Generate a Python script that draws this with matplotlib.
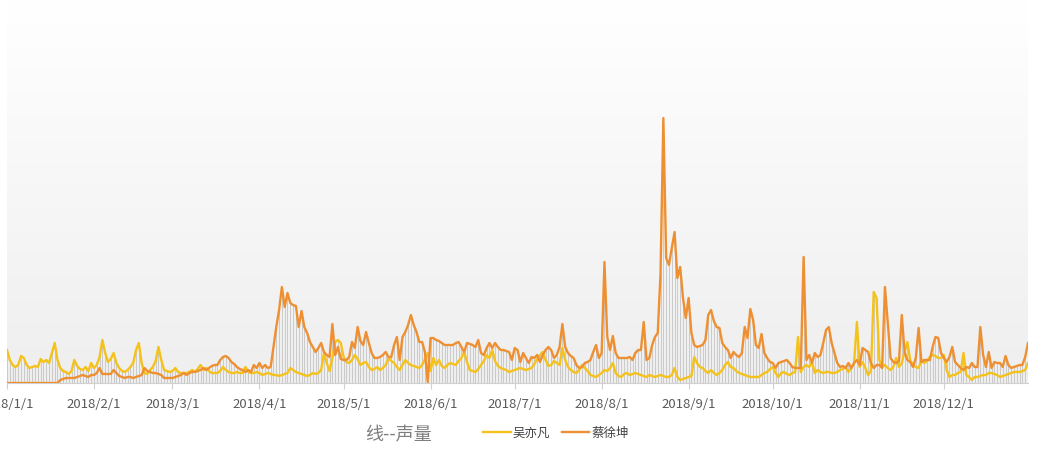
import matplotlib
matplotlib.use("Agg")
import matplotlib.pyplot as plt
import numpy as np
import pandas as pd

plt.rcParams['font.family'] = ['Noto Sans CJK SC', 'DejaVu Sans']

# ---- data: daily 声量 (arbitrary units) ----
year_start = '2018-01-01'
year_end = '2018-12-31'

# 吴亦凡 (yellow)
wyf_jan = [33, 23, 18, 16, 18, 27, 25, 18, 15, 16, 17, 16, 24, 21, 23, 20, 30, 40, 23, 15,
           12, 11, 9, 12, 23, 17, 14, 13, 16, 12, 20]
wyf_feb = [15, 18, 26, 43, 30, 21, 24, 30, 20, 15, 12, 11, 13, 16, 20, 33, 40, 20, 10, 9,
           13, 16, 22, 36, 23, 13, 12, 11]
wyf_mar = [12, 15, 11, 10, 10, 10, 11, 13, 11, 14, 18, 13, 15, 12, 10, 10, 10, 12, 16, 13,
           11, 10, 10, 11, 10, 10, 16, 11, 10, 10, 11]
wyf_apr = [10, 8, 9, 10, 9, 8, 8, 7, 8, 9, 10, 15, 13, 11, 10, 9, 8, 7, 8, 10,
           9, 10, 13, 30, 20, 12, 25, 41, 43, 40]
wyf_may = [26, 21, 20, 23, 28, 24, 18, 20, 21, 16, 13, 14, 16, 13, 15, 18, 25, 22, 20, 16,
           13, 18, 23, 20, 18, 17, 16, 15, 18, 24, 30]
wyf_jun = [12, 25, 18, 23, 17, 15, 18, 20, 19, 18, 22, 25, 31, 21, 13, 12, 11, 14, 18, 22,
           28, 25, 33, 22, 17, 15, 14, 13, 11, 12]
wyf_jul = [13, 14, 15, 14, 13, 14, 15, 19, 24, 28, 31, 23, 17, 18, 22, 20, 18, 35, 23, 16,
           13, 11, 10, 13, 18, 15, 12, 8, 7, 6, 8]
wyf_aug = [10, 13, 12, 15, 20, 10, 7, 6, 9, 10, 8, 9, 10, 9, 8, 7, 6, 8, 7, 6,
           7, 8, 7, 6, 6, 8, 15, 6, 3, 4, 5]
wyf_sep = [6, 7, 26, 20, 16, 15, 12, 10, 13, 10, 8, 10, 13, 18, 21, 16, 15, 12, 10, 9,
           8, 7, 6, 6, 6, 6, 8, 10, 11, 14]
wyf_oct = [16, 10, 6, 10, 11, 9, 8, 10, 11, 46, 11, 16, 18, 16, 21, 10, 13, 11, 10, 11,
           11, 10, 10, 11, 13, 14, 16, 11, 15, 20, 61]
wyf_nov = [16, 21, 15, 8, 12, 91, 85, 23, 16, 18, 15, 13, 16, 25, 16, 20, 31, 41, 23, 18,
           16, 15, 23, 20, 22, 26, 28, 27, 25, 25]
wyf_dec = [28, 13, 6, 8, 8, 10, 11, 30, 8, 6, 3, 6, 6, 7, 8, 8, 10, 10, 9, 8,
           6, 7, 8, 9, 10, 11, 11, 11, 12, 13, 20]

# 蔡徐坤 (orange)
cxk_jan = [0, 0, 0, 0, 0, 0, 0, 0, 0, 0, 0, 0, 0, 0, 0, 0, 0, 0, 0, 3,
           4, 5, 5, 5, 5, 6, 7, 8, 7, 6, 8]
cxk_feb = [8, 10, 15, 9, 9, 9, 9, 13, 10, 7, 6, 5, 6, 6, 5, 6, 7, 8, 15, 12,
           11, 10, 10, 9, 8, 5, 5, 5]
cxk_mar = [5, 6, 7, 8, 10, 8, 10, 11, 11, 12, 13, 15, 13, 15, 17, 18, 18, 23, 26, 27,
           25, 21, 19, 16, 14, 13, 11, 13, 11, 18, 15]
cxk_apr = [20, 15, 18, 15, 16, 36, 56, 73, 96, 76, 90, 80, 78, 77, 56, 72, 56, 50, 41, 36,
           31, 35, 40, 31, 28, 26, 59, 28, 36, 24]
cxk_may = [23, 23, 26, 41, 35, 56, 42, 38, 51, 40, 30, 25, 25, 26, 28, 31, 26, 26, 38, 46,
           23, 46, 51, 58, 68, 58, 51, 41, 41, 31, 1]
cxk_jun = [45, 45, 43, 42, 40, 38, 38, 38, 38, 40, 41, 36, 31, 40, 39, 38, 36, 43, 30, 28,
           35, 40, 35, 40, 36, 33, 33, 32, 31, 23]
cxk_jul = [35, 33, 21, 30, 25, 20, 26, 25, 28, 21, 28, 33, 36, 33, 25, 28, 36, 59, 36, 30,
           27, 25, 18, 15, 16, 20, 21, 23, 31, 38, 25]
cxk_aug = [30, 121, 46, 33, 47, 30, 25, 25, 25, 25, 26, 23, 30, 33, 33, 61, 23, 25, 38, 46,
           50, 110, 265, 125, 118, 135, 151, 105, 116, 85, 65]
cxk_sep = [85, 50, 38, 36, 37, 38, 43, 68, 73, 62, 56, 55, 40, 36, 33, 25, 31, 28, 26, 30,
           56, 45, 74, 63, 38, 35, 49, 30, 25, 21]
cxk_oct = [20, 15, 20, 21, 22, 23, 20, 16, 15, 15, 15, 126, 23, 28, 20, 30, 26, 28, 40, 53,
           56, 40, 30, 20, 16, 17, 15, 20, 15, 20, 23]
cxk_nov = [18, 35, 33, 31, 20, 15, 18, 18, 15, 96, 60, 25, 21, 20, 22, 68, 31, 23, 21, 16,
           25, 55, 21, 23, 23, 23, 36, 46, 45, 30]
cxk_dec = [25, 21, 26, 36, 21, 18, 15, 13, 16, 15, 20, 16, 16, 56, 28, 16, 31, 15, 21, 20,
           20, 16, 27, 18, 15, 16, 17, 18, 18, 26, 40]

month_starts = ['2018-01-01', '2018-02-01', '2018-03-01', '2018-04-01', '2018-05-01', '2018-06-01',
                '2018-07-01', '2018-08-01', '2018-09-01', '2018-10-01', '2018-11-01', '2018-12-01']
month_labels = ['2018/1/1', '2018/2/1', '2018/3/1', '2018/4/1', '2018/5/1', '2018/6/1',
                '2018/7/1', '2018/8/1', '2018/9/1', '2018/10/1', '2018/11/1', '2018/12/1']
series_names = ['吴亦凡', '蔡徐坤']
chart_title = '线--声量'

# ---- assemble ----
dates = pd.date_range(year_start, year_end, freq='D')
wyf = np.array(wyf_jan + wyf_feb + wyf_mar + wyf_apr + wyf_may + wyf_jun +
               wyf_jul + wyf_aug + wyf_sep + wyf_oct + wyf_nov + wyf_dec, dtype=float)
cxk = np.array(cxk_jan + cxk_feb + cxk_mar + cxk_apr + cxk_may + cxk_jun +
               cxk_jul + cxk_aug + cxk_sep + cxk_oct + cxk_nov + cxk_dec, dtype=float)

W, H = 1044, 462
fig = plt.figure(figsize=(W / 100, H / 100), dpi=100)
fig.patch.set_facecolor('white')
ax = fig.add_axes([7 / W, (H - 383) / H, 1021 / W, 383 / H])
ax.set_xlim(dates[0], dates[-1])
ax.set_ylim(0, 383)
ax.patch.set_alpha(0)

# background gradient (white at top to light grey at base)
grad = np.linspace(1.0, 0.935, 256)
img = np.dstack([grad, grad, grad])[:, None, :].reshape(256, 1, 3)
ax.imshow(img, extent=(0, 1, 0, 1), transform=ax.transAxes, aspect='auto',
          origin='upper', zorder=0, interpolation='bilinear')

# drop lines
ax.vlines(dates, 0, np.maximum(wyf, cxk), color='#C4C4C4', lw=0.6, zorder=1)

l1, = ax.plot(dates, wyf, color='#F5C21B', lw=1.7, zorder=3, label=series_names[0])
l2, = ax.plot(dates, cxk, color='#EE9032', lw=1.7, zorder=4, label=series_names[1])

ax.set_xticks(pd.to_datetime(month_starts))
ax.set_xticklabels(month_labels, fontsize=9.5, color='#595959')
ax.tick_params(axis='x', length=4, width=0.8, color='#D0D0D0', pad=7)
ax.set_yticks([])
for s in ['top', 'left', 'right']:
    ax.spines[s].set_visible(False)
ax.spines['bottom'].set_color('#D0D0D0')
ax.spines['bottom'].set_linewidth(0.8)

fig.text(365 / W, 1 - 435 / H, chart_title, fontsize=13, color='#7F7F7F',
         ha='left', va='center')
fig.legend(handles=[l1, l2], loc='center left', bbox_to_anchor=(483 / W, 1 - 433 / H),
           ncol=2, frameon=False, fontsize=9, handlelength=2.2, handletextpad=0.2,
           columnspacing=0.9, borderpad=0, borderaxespad=0, labelcolor='#404040')

fig.savefig('out.png', dpi=100, facecolor='white')
